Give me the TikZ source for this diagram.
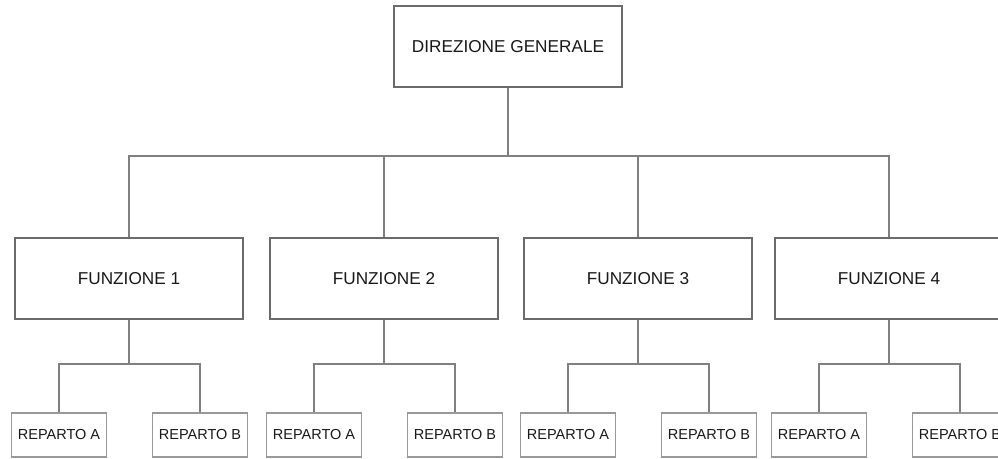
\documentclass[tikz,border=0pt]{standalone}
\usepackage{fontspec}
\setmainfont{Liberation Sans}
\begin{document}
\begin{tikzpicture}[x=1pt,y=-1pt,
  boxline/.style={draw=black!58, line width=1.6pt, fill=white, text=black!90, align=center, inner sep=0pt},
  topbox/.style={boxline, minimum width=228pt, minimum height=81pt, font=\fontsize{17.2}{19}\selectfont},
  funcbox/.style={boxline, minimum width=228pt, minimum height=81pt, font=\fontsize{17.2}{19}\selectfont},
  repbox/.style={boxline, draw=black!40, line width=1.4pt, minimum width=95pt, minimum height=44pt, font=\fontsize{14.5}{16}\selectfont},
  conn/.style={draw=black!50, line width=2pt}]
\useasboundingbox (0,0) rectangle (998,458);

% top level
\node[topbox] (dg) at (508,46.5) {DIREZIONE GENERALE};

% functions
\node[funcbox] (f1) at (129,278.5) {FUNZIONE 1};
\node[funcbox] (f2) at (384,278.5) {FUNZIONE 2};
\node[funcbox] (f3) at (638,278.5) {FUNZIONE 3};
\node[funcbox] (f4) at (889,278.5) {FUNZIONE 4};

% departments
\foreach \i/\c in {1/129,2/384,3/638,4/889}{
  \node[repbox] (a\i) at (\c-70,435) {REPARTO A};
  \node[repbox] (b\i) at (\c+71,435) {REPARTO B};
}

% connectors from the top box
\foreach \i in {1,2,3,4}
  \draw[conn] (dg.south) -- ++(0,68) -| (f\i.north);

% connectors from each function to its departments
\foreach \i in {1,2,3,4}{
  \draw[conn] (f\i.south) -- ++(0,44) -| (a\i.north);
  \draw[conn] (f\i.south) -- ++(0,44) -| (b\i.north);
}
\end{tikzpicture}
\end{document}
